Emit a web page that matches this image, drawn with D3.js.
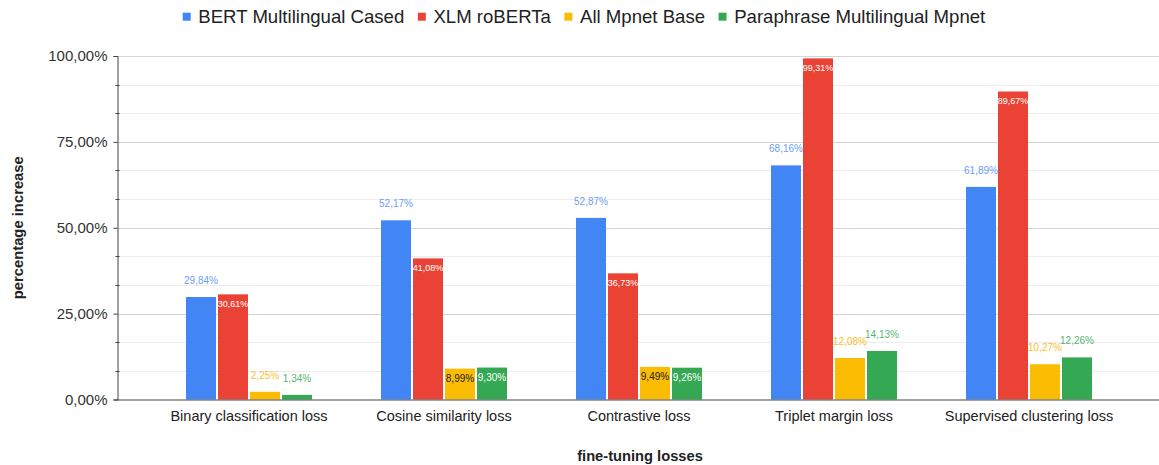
<!DOCTYPE html>
<html>
<head>
<meta charset="utf-8">
<script src="https://cdn.jsdelivr.net/npm/d3@7"></script>
<style>
  body { margin: 0; background: #fff; }
  text { font-family: "Liberation Sans", Arial, sans-serif; }
</style>
</head>
<body>
<div id="chart"></div>
<script>

const categories = ["Binary classification loss", "Cosine similarity loss", "Contrastive loss", "Triplet margin loss", "Supervised clustering loss"];
const seriesNames = ["BERT Multilingual Cased", "XLM roBERTa", "All Mpnet Base", "Paraphrase Multilingual Mpnet"];
const colors = ["#4285f4", "#ea4335", "#fbbc04", "#34a853"];

const bertValues = [29.84, 52.17, 52.87, 68.16, 61.89];
const xlmValues = [30.61, 41.08, 36.73, 99.31, 89.67];
const allMpnetValues = [2.25, 8.99, 9.49, 12.08, 10.27];
const paraMpnetValues = [1.34, 9.30, 9.26, 14.13, 12.26];

const yTicks = [0, 25, 50, 75, 100];

// where Sheets put each label: a = above bar, i = inside bar
const bertPlace = ["a", "a", "a", "a", "a"];
const xlmPlace = ["i", "i", "i", "i", "i"];
const allPlace = ["a", "i", "i", "a", "a"];
const paraPlace = ["a", "i", "i", "a", "a"];

const W = 1159, H = 465;
const margin = {top: 56, right: 0, bottom: 65.5, left: 117};

const svg = d3.select("#chart").append("svg")
	.attr("width", W)
	.attr("height", H);

const allSeries = [bertValues, xlmValues, allMpnetValues, paraMpnetValues];
const places = [bertPlace, xlmPlace, allPlace, paraPlace];

const data = categories.map(function(c, i) {
	return {cat: c, vals: allSeries.map((s, j) => ({name: seriesNames[j], idx: j, value: s[i], place: places[j][i]}))};
});

const y = d3.scaleLinear().domain([0, 100]).range([H - margin.bottom, margin.top]);

const x0 = d3.scaleBand().domain(categories).range([186, 1092]).paddingInner(69 / 195);
const x1 = d3.scaleBand().domain(seriesNames).range([0, x0.bandwidth()]).paddingInner(2 / 32);

const loc = d3.formatLocale({decimal: ",", thousands: ".", grouping: [3], currency: ["", ""]});
const fmt = v => loc.format(".2f")(v) + "%";

// gridlines (minor every 25/3)
const minor = d3.range(0, 100.001, 25 / 3).filter(v => Math.abs(v % 25) > 0.01 && Math.abs(v % 25 - 25) > 0.01);
svg.append("g").selectAll("line").data(minor).enter().append("line")
	.attr("x1", margin.left).attr("x2", W)
	.attr("y1", d => Math.round(y(d)) + 0.5).attr("y2", d => Math.round(y(d)) + 0.5)
	.attr("stroke", "#ececec");
svg.append("g").selectAll("line").data(yTicks.slice(1)).enter().append("line")
	.attr("x1", margin.left).attr("x2", W)
	.attr("y1", d => Math.round(y(d)) + 0.5).attr("y2", d => Math.round(y(d)) + 0.5)
	.attr("stroke", "#d4d4d4");

// y axis
const yAxis = svg.append("g").attr("transform", "translate(" + (margin.left + 0.5) + ",0)")
	.call(d3.axisLeft(y).tickValues(yTicks).tickFormat(fmt).tickSize(4).tickPadding(6));
yAxis.select(".domain").attr("stroke", "#444");
yAxis.selectAll(".tick line").attr("stroke", "#444");
yAxis.selectAll("text").attr("font-size", 15).attr("fill", "#333").attr("font-family", "Liberation Sans, Arial, sans-serif");
svg.append("g").selectAll("line").data(minor).enter().append("line")
	.attr("x1", margin.left - 1.5).attr("x2", margin.left + 2.5)
	.attr("y1", d => Math.round(y(d)) + 0.5).attr("y2", d => Math.round(y(d)) + 0.5)
	.attr("stroke", "#444");

// bars
const groups = svg.append("g").selectAll("g").data(data).enter().append("g")
	.attr("transform", d => "translate(" + x0(d.cat) + ",0)");

groups.selectAll("rect").data(d => d.vals).enter().append("rect")
	.attr("x", d => x1(d.name))
	.attr("y", d => y(d.value))
	.attr("width", x1.bandwidth())
	.attr("height", d => y(0) - y(d.value))
	.attr("fill", d => colors[d.idx]);

// x axis line
svg.append("line")
	.attr("x1", margin.left).attr("x2", W)
	.attr("y1", y(0) + 0.5).attr("y2", y(0) + 0.5)
	.attr("stroke", "#444");

// value labels
const labelFill = ["#6d9ef5", "#fff", "#fbc02d", "#57b56f"];
groups.selectAll("text.val").data(d => d.vals).enter().append("text")
	.attr("class", "val")
	.attr("x", d => x1(d.name) + x1.bandwidth() / 2)
	.attr("y", d => d.place == "a" ? y(d.value) - 13 : y(d.value) + 13)
	.attr("text-anchor", "middle")
	.attr("font-family", "Roboto, sans-serif")
	.attr("font-size", d => (d.place == "i" && d.idx == 1) ? 9 : 10)
	.attr("fill", function(d) {
		if (d.place == "a") return labelFill[d.idx];
		if (d.idx == 2) return "#222";
		return "#fff";
	})
	.text(d => fmt(d.value));

// x labels
svg.append("g").selectAll("text").data(categories).enter().append("text")
	.attr("x", d => x0(d) + x0.bandwidth() / 2)
	.attr("y", 421)
	.attr("text-anchor", "middle")
	.attr("font-size", 14.5)
	.attr("fill", "#222")
	.text(d => d);

// axis titles
svg.append("text")
	.attr("x", 640).attr("y", 461)
	.attr("text-anchor", "middle")
	.attr("font-size", 14.7).attr("font-weight", "bold").attr("fill", "#222")
	.text("fine-tuning losses");

svg.append("text")
	.attr("transform", "translate(23," + ((margin.top + y(0)) / 2) + ") rotate(-90)")
	.attr("text-anchor", "middle")
	.attr("font-size", 14.8).attr("font-weight", "bold").attr("fill", "#222")
	.text("percentage increase");

// legend
const legend = svg.append("g").attr("transform", "translate(0,16.7)");
const items = legend.selectAll("g").data(seriesNames).enter().append("g");
items.append("rect").attr("width", 8).attr("height", 8).attr("y", -4).attr("fill", (d, i) => colors[i]);
items.append("text").attr("x", 15.6).attr("y", 6.6).attr("font-size", 18.6).attr("fill", "#222").text(d => d);
const widths = [];
items.each(function() { widths.push(15.6 + this.querySelector("text").getComputedTextLength()); });
const gap = 13.5;
const total = d3.sum(widths) + gap * (widths.length - 1);
let lx = 584 - total / 2;
items.attr("transform", function(d, i) {
	const t = "translate(" + lx + ",0)";
	lx += widths[i] + gap;
	return t;
});

</script>
</body>
</html>
